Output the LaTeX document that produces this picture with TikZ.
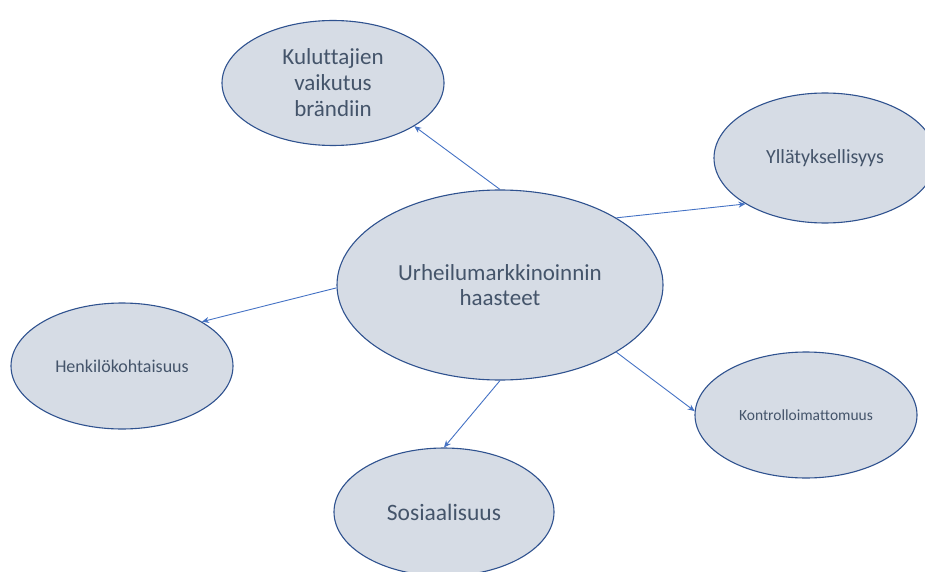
\documentclass[tikz,border=0pt]{standalone}
\usepackage{fontspec}
\setmainfont{Carlito}[Ligatures=NoCommon]
\usetikzlibrary{shapes.geometric,arrows.meta}
\definecolor{efill}{HTML}{D6DCE5}
\definecolor{edraw}{HTML}{2F528F}
\definecolor{etext}{HTML}{44546A}
\definecolor{arr}{HTML}{4472C4}
\tikzset{
  bub/.style={ellipse, fill=efill, draw=edraw, line width=1.1pt, text=etext, inner sep=0pt, align=center},
  link/.style={draw=arr, line width=0.9pt, -{Stealth[length=7pt,width=6pt]}}
}
\begin{document}
\begin{tikzpicture}[x=1pt,y=-1pt]
\useasboundingbox (0,0) rectangle (925,572);
\node[bub, minimum width=326pt, minimum height=190pt, font=\fontsize{23}{25}\selectfont] (c) at (500,285) {Urheilumarkkinoinnin\\haasteet};
\node[bub, minimum width=222pt, minimum height=125pt, font=\fontsize{23}{26}\selectfont] (k) at (333,83) {Kuluttajien\\vaikutus\\brändiin};
\node[bub, minimum width=222pt, minimum height=130pt, font=\fontsize{20}{22}\selectfont] (y) at (825,158) {Yllätyksellisyys};
\node[bub, minimum width=222pt, minimum height=126pt, font=\fontsize{18}{20}\selectfont] (h) at (122,366) {Henkilökohtaisuus};
\node[bub, minimum width=222pt, minimum height=126pt, font=\fontsize{15.5}{18}\selectfont] (ko) at (806,415) {Kontrolloimattomuus};
\node[bub, minimum width=220pt, minimum height=128pt, font=\fontsize{23.5}{26}\selectfont] (s) at (444,512) {Sosiaalisuus};
\draw[link] (c.north) -- (k.-28);
\draw[link] (c.30) -- (y.210);
\draw[link] (c.181) -- (h.29);
\draw[link] (c.-30) -- (ko.178);
\draw[link] (c.south) -- (s.north);
\end{tikzpicture}
\end{document}
